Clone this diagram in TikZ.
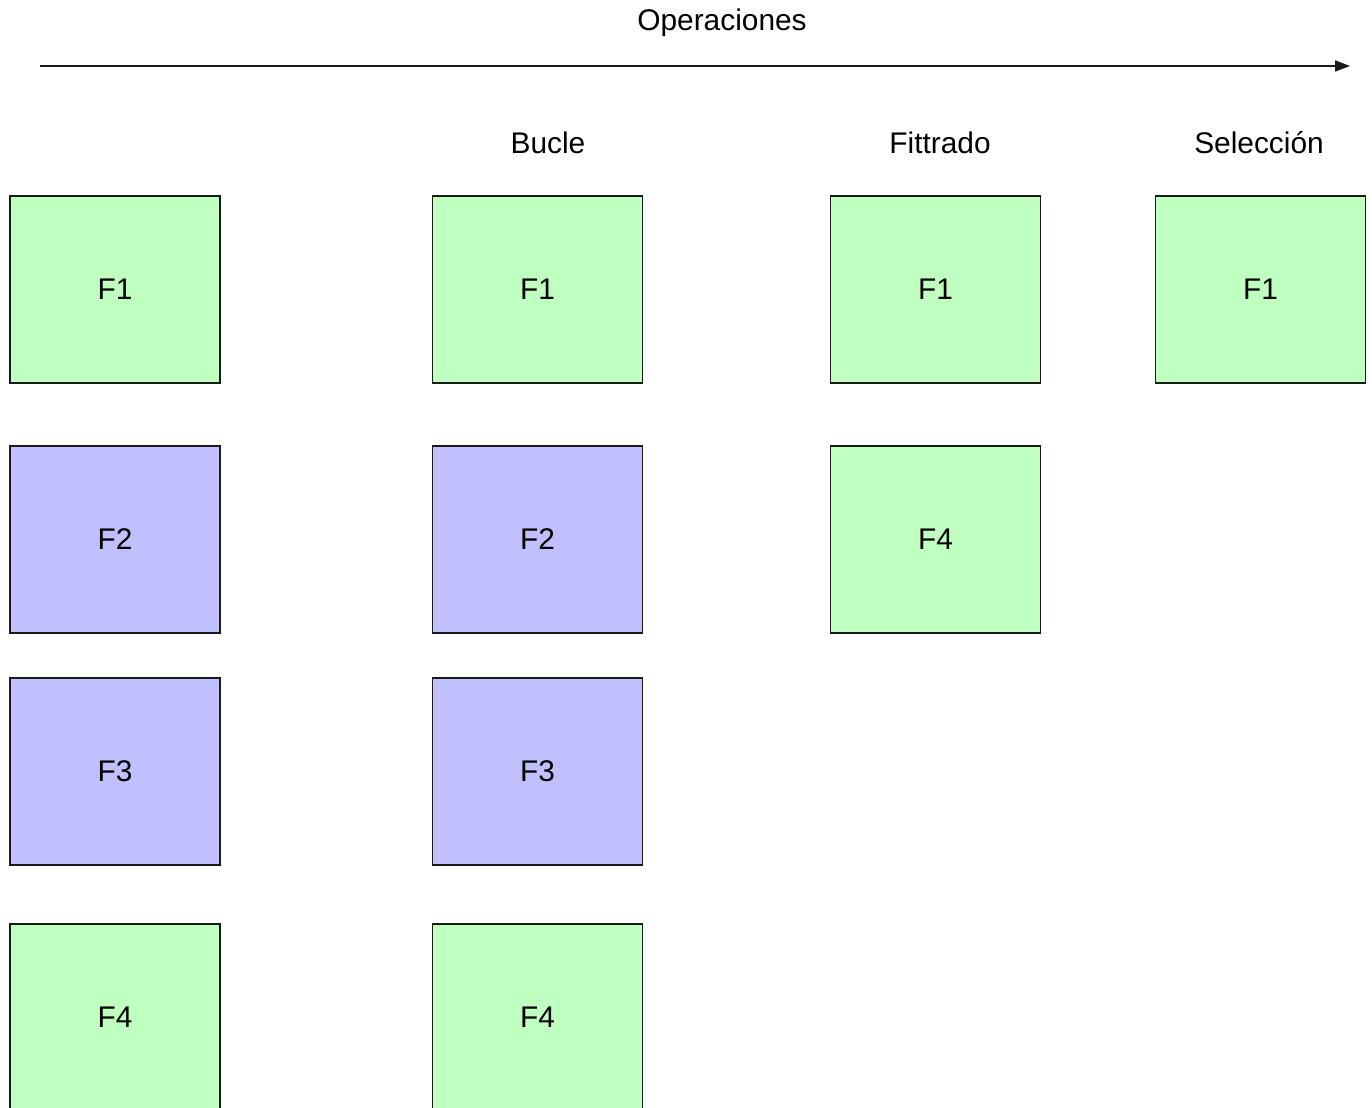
\documentclass[tikz,border=0pt]{standalone}
\usepackage{fontspec}
\setmainfont{Liberation Sans}
\usepackage{xcolor}
\definecolor{BoxGreen}{HTML}{BFFFC0}
\definecolor{BoxBlue}{HTML}{C0C0FF}
\definecolor{Edge}{HTML}{1A1A1A}
\usetikzlibrary{arrows.meta, positioning}

\begin{document}
\begin{tikzpicture}[x=0.02cm, y=-0.02cm, >={Triangle[length=0.3cm, width=0.22cm]},
  keep/.style={rectangle, draw=Edge, line width=0.9pt, fill=BoxGreen,
               minimum width=4.2cm, minimum height=3.74cm, font=\fontsize{17}{20}\selectfont},
  drop/.style={keep, fill=BoxBlue},
  head/.style={font=\fontsize{17}{20}\selectfont},
  arr/.style={->, line width=0.9pt, color=Edge}
]
\useasboundingbox (0,0) rectangle (1372,1108);
\clip (0,0) rectangle (1372,1108);

%% ---- Time axis ----
\node[head] (ops) at (722, 23) {Operaciones};
\coordinate (axisL) at (40, 66);
\coordinate (axisR) at (1350, 66);
\draw[arr] (axisL) -- (axisR);

%% ---- Column headings ----
\node[head] (bucle)  at ( 548, 143) {Bucle};
\node[head] (filtro) at ( 940, 143) {Fittrado};
\node[head] (selec)  at (1259, 143) {Selección};

%% ---- Starting frame ----
\node[keep] (f1a) at (115, 289.5) {F1};
\node[drop] (f2a) at (115, 539.5) {F2};
\node[drop] (f3a) at (115, 771.5) {F3};
\node[keep] (f4a) at (115, 1017.5) {F4};

%% ---- After loop ----
\node[keep] (f1b) at (537.5, 289.5) {F1};
\node[drop] (f2b) at (537.5, 539.5) {F2};
\node[drop] (f3b) at (537.5, 771.5) {F3};
\node[keep] (f4b) at (537.5, 1017.5) {F4};

%% ---- After filter ----
\node[keep] (f1c) at (935.5, 289.5) {F1};
\node[keep] (f4c) at (935.5, 539.5) {F4};

%% ---- After selection ----
\node[keep] (f1d) at (1260.5, 289.5) {F1};

\end{tikzpicture}
\end{document}
